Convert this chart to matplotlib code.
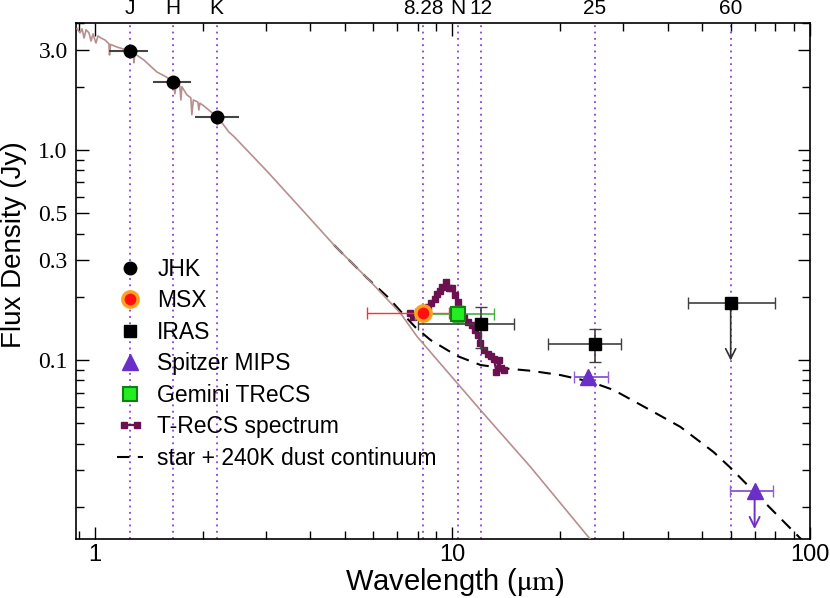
import numpy as np
import matplotlib.pyplot as plt
from matplotlib.ticker import LogLocator, NullFormatter
from matplotlib.lines import Line2D
from matplotlib.legend_handler import HandlerLine2D

plt.rcParams['font.family'] = 'Liberation Sans'
plt.rcParams['mathtext.fontset'] = 'stix'

# filter band centres marked on top axis
band_wl = [1.25, 1.65, 2.19, 8.28, 10.36, 12, 25, 60]
band_names = ['J', 'H', 'K', '8.28', 'N', '12', '25', '60']

# photometry (Jy)
jhk_wl = [1.25, 1.65, 2.19]
jhk_flux = [2.96, 2.11, 1.44]
jhk_wl_lo = [1.094, 1.452, 1.903]
jhk_wl_hi = [1.406, 1.854, 2.525]

msx_wl = [8.28]
msx_flux = [0.168]
msx_wl_lo = [5.75]
msx_wl_hi = [9.77]

trecs_wl = [10.36]
trecs_flux = [0.166]
trecs_wl_lo = [7.83]
trecs_wl_hi = [13.10]
trecs_ferr = [0.015]

iras_wl = [12, 25, 60]
iras_flux = [0.148, 0.119, 0.186]
iras_wl_lo = [8.02, 18.46, 45.54]
iras_wl_hi = [14.90, 29.66, 79.86]
iras_flux_lo = [0.114, 0.098, np.nan]
iras_flux_hi = [0.178, 0.141, np.nan]
iras_limit_wl = [60]
iras_limit_from = [0.186]
iras_limit_to = [0.0964]

mips_wl = [24, 70]
mips_flux = [0.0833, 0.0238]
mips_wl_lo = [21.83, 59.8]
mips_wl_hi = [27.15, 78.7]
mips_limit_wl = [70]
mips_limit_from = [0.0238]
mips_limit_to = [0.0152]

# T-ReCS N-band spectrum
spec_wl = [7.60, 7.77, 7.93, 8.11, 8.30, 8.53, 8.72, 8.91, 9.07, 9.21, 9.36, 9.59,
           9.76, 9.98, 10.13, 10.33, 10.58, 10.80, 11.05, 11.35, 11.59, 11.77, 11.97,
           12.25, 12.55, 12.81, 13.06, 13.27, 13.47, 13.66, 13.91]
spec_flux = [0.168, 0.161, 0.162, 0.166, 0.171, 0.178, 0.186, 0.195, 0.206, 0.214,
             0.222, 0.234, 0.220, 0.220, 0.204, 0.189, 0.174, 0.160, 0.152, 0.147,
             0.139, 0.132, 0.120, 0.112, 0.107, 0.104, 0.101, 0.088, 0.100, 0.092, 0.090]

# stellar photosphere model
star_wl = [0.891, 0.908, 0.920, 0.932, 0.944, 0.962, 0.975, 0.987, 1.006, 1.020,
           1.039, 1.066, 1.094, 1.098, 1.105, 1.152, 1.197, 1.253, 1.281, 1.285,
           1.293, 1.370, 1.490, 1.579, 1.657, 1.673, 1.689, 1.727, 1.739, 1.750,
           1.807, 1.854, 1.866, 1.884, 1.940, 1.952, 1.965, 2.016, 2.109, 2.192,
           2.199, 2.213, 2.368, 2.449, 3.037, 3.762, 4.661, 5.778, 7.155, 7.969,
           11.97, 16.52, 24.30, 25.91]
star_flux = [3.78, 3.61, 3.77, 3.41, 3.73, 3.61, 3.30, 3.57, 3.23, 3.49,
             3.41, 3.34, 3.20, 2.83, 3.18, 3.09, 3.03, 2.93, 2.90, 2.60,
             2.87, 2.68, 2.35, 2.23, 2.11, 1.85, 2.06, 2.02, 1.73, 2.00,
             1.83, 1.77, 1.47, 1.73, 1.69, 1.55, 1.67, 1.62, 1.52, 1.436,
             1.315, 1.42, 1.218, 1.157, 0.788, 0.528, 0.3528, 0.2449, 0.1669, 0.129,
             0.0578, 0.0310, 0.0140, 0.0122]

# star + 240K dust
dust_wl = [4.661, 5.778, 6.60, 7.31, 7.88, 8.68, 10.31, 11.97, 13.91, 16.52, 20.03,
           24.30, 28.22, 34.99, 43.35, 53.70, 59.78, 69.43, 82.47, 93.79, 100]
dust_flux = [0.3528, 0.2449, 0.199, 0.164, 0.143, 0.1245, 0.1045, 0.0947, 0.0913,
             0.0889, 0.0848, 0.0788, 0.0720, 0.0589, 0.0481, 0.0365, 0.0308, 0.0238,
             0.0177, 0.0142, 0.0127]


def xerr(wl, lo, hi):
    wl = np.array(wl)
    return [wl - np.array(lo), np.array(hi) - wl]


fig = plt.figure(figsize=(8.3, 5.98), dpi=100)
ax = fig.add_axes([0.0916, 0.0987, 0.8843, 0.8628])

for w in band_wl:
    ax.axvline(w, color='#8a3ee0', ls=(0, (1, 2.5)), lw=1.3, zorder=1)

ax.plot(dust_wl, dust_flux, color='black', lw=1.5, ls=(0, (6, 4)), zorder=2)
ax.plot(star_wl, star_flux, color='#b88e8e', lw=1.2, zorder=3)
ax.plot(spec_wl, spec_flux, color='#6b1150', lw=1.6, marker='s', ms=4, zorder=4)

# error bars
ax.errorbar(jhk_wl, jhk_flux, xerr=xerr(jhk_wl, jhk_wl_lo, jhk_wl_hi), fmt='none',
            ecolor='#444444', elinewidth=1.5, capsize=0, zorder=5)
ax.errorbar(msx_wl, msx_flux, xerr=xerr(msx_wl, msx_wl_lo, msx_wl_hi), fmt='none',
            ecolor='#ff3030', elinewidth=1.0, capsize=4, zorder=5)
ax.errorbar(trecs_wl, trecs_flux, xerr=xerr(trecs_wl, trecs_wl_lo, trecs_wl_hi),
            yerr=trecs_ferr, fmt='none', ecolor='#44b044', elinewidth=1.2, capsize=4, zorder=5)
iras_f = np.array(iras_flux)
ax.errorbar(iras_wl, iras_flux, xerr=xerr(iras_wl, iras_wl_lo, iras_wl_hi),
            yerr=[iras_f - np.array(iras_flux_lo), np.array(iras_flux_hi) - iras_f],
            fmt='none', ecolor='#404040', elinewidth=1.2, capsize=4, zorder=5)
ax.errorbar(mips_wl, mips_flux, xerr=xerr(mips_wl, mips_wl_lo, mips_wl_hi), fmt='none',
            ecolor='#9060d8', elinewidth=1.4, capsize=4, zorder=5)

# upper limits
for w, f0, f1 in zip(iras_limit_wl, iras_limit_from, iras_limit_to):
    ax.annotate('', xy=(w, f1), xytext=(w, f0),
                arrowprops=dict(arrowstyle='->', color='#303030', lw=1.2, mutation_scale=18),
                zorder=5)
for w, f0, f1 in zip(mips_limit_wl, mips_limit_from, mips_limit_to):
    ax.annotate('', xy=(w, f1), xytext=(w, f0),
                arrowprops=dict(arrowstyle='->', color='#7030c8', lw=1.4, mutation_scale=18),
                zorder=5)

# markers
ax.plot(jhk_wl, jhk_flux, 'o', color='black', ms=9, zorder=6)
ax.plot(msx_wl, msx_flux, 'o', mfc='#ff1010', mec='#ffa020', mew=2.5, ms=11, zorder=6)
ax.plot(iras_wl, iras_flux, 's', color='black', ms=8.5, zorder=6)
ax.plot(mips_wl, mips_flux, '^', color='#6a2fc8', ms=11, zorder=6)
ax.plot(trecs_wl, trecs_flux, 's', mfc='#22ee22', mec='#108010', mew=1.5, ms=10, zorder=6)

ax.set_xscale('log')
ax.set_yscale('log')
ax.set_xlim(0.885, 100)
ax.set_ylim(0.01406, 4.02)

ax.set_xticks([1, 10, 100])
ax.set_xticklabels(['1', '10', '100'], fontsize=17)
ax.xaxis.set_minor_locator(LogLocator(base=10, subs=np.arange(2, 10)))
ax.xaxis.set_minor_formatter(NullFormatter())

ax.set_yticks([0.1, 0.3, 0.5, 1.0, 3.0])
ax.set_yticklabels(['0.1', '0.3', '0.5', '1.0', '3.0'], fontsize=17,
                   fontfamily='Liberation Serif')
ax.yaxis.set_minor_locator(LogLocator(base=10, subs=np.arange(2, 10)))
ax.yaxis.set_minor_formatter(NullFormatter())

ax.tick_params(which='both', direction='in', top=True, right=True)
ax.tick_params(which='major', length=9, width=1)
ax.tick_params(which='minor', length=6, width=1)
ax.tick_params(axis='x', which='major', pad=3.5)
ax.tick_params(axis='y', which='major', pad=6)
for s in ax.spines.values():
    s.set_linewidth(1.2)

for w, n in zip(band_wl, band_names):
    ax.text(w, 1.01, n, transform=ax.get_xaxis_transform(), ha='center', va='bottom',
            fontsize=15)

ax.set_xlabel(r'Wavelength ($\mathrm{\mu m}$)', fontsize=21)
ax.xaxis.set_label_coords(0.516, -0.052)
ax.set_ylabel('Flux Density (Jy)', fontsize=20)
ax.yaxis.set_label_coords(-0.067, 0.57)

handles = [
    Line2D([], [], ls='none', marker='o', color='black', ms=9),
    Line2D([], [], ls='none', marker='o', mfc='#ff1010', mec='#ffa020', mew=2.5, ms=11),
    Line2D([], [], ls='none', marker='s', color='black', ms=8.5),
    Line2D([], [], ls='none', marker='^', color='#6a2fc8', ms=11),
    Line2D([], [], ls='none', marker='s', mfc='#22ee22', mec='#108010', mew=1.5, ms=10),
    Line2D([], [], color='#6b1150', lw=1.6, marker='s', ms=4),
    Line2D([], [], color='black', lw=1.5, ls=(0, (6, 4))),
]
labels = ['JHK', 'MSX', 'IRAS', 'Spitzer MIPS', 'Gemini TReCS', 'T-ReCS spectrum',
          'star + 240K dust continuum']
ax.legend(handles, labels, loc='upper left', bbox_to_anchor=(0.056, 0.545),
          frameon=False, fontsize=16.5, handlelength=1.15, handletextpad=0.6,
          labelspacing=0.37, borderpad=0, borderaxespad=0,
          handler_map={handles[5]: HandlerLine2D(numpoints=2)})

fig.savefig('out.png', dpi=100)
